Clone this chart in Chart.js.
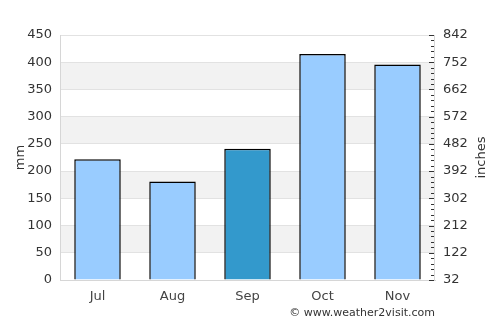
<!DOCTYPE html>
<html>
<head>
<meta charset="utf-8">
<script src="https://cdn.jsdelivr.net/npm/chart.js@4"></script>
<style>
  html, body { margin: 0; padding: 0; background: #fff; }
  #wrap { width: 500px; height: 325px; }
</style>
</head>
<body>
<div id="wrap"><canvas id="rainChart"></canvas></div>
<script>
// rainfall per month (mm)
var months = ["Jul", "Aug", "Sep", "Oct", "Nov"];
var rainMm = [222, 181, 241, 415, 396];
var barColors = ["#99ccff", "#99ccff", "#3399cc", "#99ccff", "#99ccff"];
var mmTicks = [0, 50, 100, 150, 200, 250, 300, 350, 400, 450];
var inchTicks = [32, 122, 212, 302, 392, 482, 572, 662, 752, 842];
var leftTitle = "mm";
var rightTitle = "inches";
var credit = "\u00a9 www.weather2visit.com";

var fontFam = "'DejaVu Sans', sans-serif";

// minor ticks on the right axis: 5 per step
var rightTickValues = [];
for (var i = 0; i < inchTicks.length; i++) {
  rightTickValues.push(inchTicks[i]);
  if (i < inchTicks.length - 1) {
    var d = (inchTicks[i + 1] - inchTicks[i]) / 5;
    for (var k = 1; k < 5; k++) rightTickValues.push(inchTicks[i] + d * k);
  }
}

// grey bands behind every other grid step + right axis ticks + extra texts
var extras = {
  id: "extras",
  beforeDraw: function(chart) {
    var c = chart.ctx, a = chart.chartArea, y = chart.scales.y;
    c.save();
    c.fillStyle = "#f2f2f2";
    for (var i = 1; i < mmTicks.length - 1; i += 2) {
      var top = y.getPixelForValue(mmTicks[i + 1]);
      var bot = y.getPixelForValue(mmTicks[i]);
      c.fillRect(a.left, top, a.right - a.left, bot - top);
    }
    c.restore();
  },
  afterDraw: function(chart) {
    var c = chart.ctx, a = chart.chartArea, y2 = chart.scales.y2;
    // right axis line and inner ticks
    c.save();
    c.strokeStyle = "#d6d6d6";
    c.lineWidth = 1;
    c.beginPath();
    c.moveTo(a.right - 0.5, a.top);
    c.lineTo(a.right - 0.5, a.bottom);
    c.stroke();
    c.strokeStyle = "#333";
    c.beginPath();
    rightTickValues.forEach(function(v) {
      var py = Math.round(y2.getPixelForValue(v)) + 0.5;
      var len = inchTicks.indexOf(v) >= 0 ? 5 : 3;
      c.moveTo(a.right - 1 - len, py);
      c.lineTo(a.right - 1, py);
    });
    c.stroke();
    c.restore();

    c.save();
    c.fillStyle = "#333";
    c.font = "13px " + fontFam;
    c.textAlign = "center";
    c.textBaseline = "middle";
    c.translate(482, (a.top + a.bottom) / 2);
    c.rotate(-Math.PI / 2);
    c.fillText(rightTitle, 0, 0);
    c.restore();

    c.save();
    c.fillStyle = "#333";
    c.font = "11px " + fontFam;
    c.textAlign = "right";
    c.textBaseline = "middle";
    c.fillText(credit, a.right, 313);
    c.restore();
  }
};

var ctx = document.getElementById("rainChart");
var rainChart = new Chart(ctx, {
  type: "bar",
  data: {
    labels: months,
    datasets: [{
      data: rainMm,
      backgroundColor: barColors,
      borderColor: "#000",
      borderWidth: 1.5,
      barPercentage: 0.62,
      categoryPercentage: 1.0
    }]
  },
  options: {
    responsive: true,
    maintainAspectRatio: false,
    animation: false,
    layout: { padding: { top: 35, left: 0, right: 0, bottom: 0 } },
    plugins: {
      legend: { display: false },
      tooltip: { enabled: false }
    },
    scales: {
      x: {
        grid: { display: false, drawTicks: false },
        border: { display: true, color: "#d6d6d6" },
        ticks: { color: "#444", font: { family: fontFam, size: 13 }, padding: 9 },
        afterFit: function(s) { s.height = 45; }
      },
      y: {
        position: "left",
        min: 0,
        max: 450,
        afterBuildTicks: function(s) { s.ticks = mmTicks.map(function(v) { return { value: v }; }); },
        grid: { color: "#e2e2e2", drawTicks: false },
        border: { display: true, color: "#d6d6d6" },
        ticks: { autoSkip: false, color: "#333", font: { family: fontFam, size: 13 }, padding: 8 },
        title: { display: true, text: leftTitle, color: "#333", font: { family: fontFam, size: 13 }, padding: { top: 13, bottom: 0 } },
        afterFit: function(s) { s.width = 60; }
      },
      y2: {
        position: "right",
        min: inchTicks[0],
        max: inchTicks[inchTicks.length - 1],
        afterBuildTicks: function(s) { s.ticks = inchTicks.map(function(v) { return { value: v }; }); },
        grid: { display: false, drawTicks: false },
        border: { display: false },
        ticks: { autoSkip: false, color: "#333", font: { family: fontFam, size: 13 }, padding: 8 },
        afterFit: function(s) { s.width = 65; }
      }
    }
  },
  plugins: [extras]
});
</script>
</body>
</html>
